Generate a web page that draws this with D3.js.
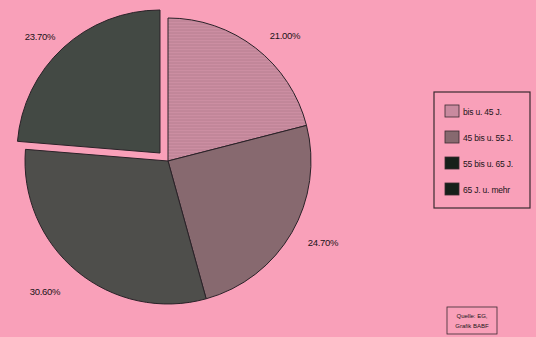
<!DOCTYPE html>
<html>
<head>
<meta charset="utf-8">
<script src="https://cdn.jsdelivr.net/npm/d3@7"></script>
<style>
body { margin: 0; background: #f9a0b9; }
svg { display: block; font-family: "Liberation Sans", Arial, sans-serif; }
</style>
</head>
<body>
<div id="chart"></div>
<script>
var categories = ["bis u. 45 J.", "45 bis u. 55 J.", "55 bis u. 65 J.", "65 J. u. mehr"];
var values = [21.0, 24.7, 30.6, 23.7];
var labels = ["21.00%", "24.70%", "30.60%", "23.70%"];
var colors = ["#c98a9f", "#87696f", "#4e4e4b", "#434944"];
var legendColors = ["#c98a9f", "#87696f", "#16201a", "#16201a"];

var width = 536, height = 337;
var cx = 168, cy = 161, r = 143;

var svg = d3.select("#chart").append("svg")
	.attr("width", width).attr("height", height);

svg.append("rect").attr("width", width).attr("height", height).attr("fill", "#f9a0b9");

// feine Schraffur fuer das erste Segment
var defs = svg.append("defs");
var pat = defs.append("pattern").attr("id", "hatch")
	.attr("patternUnits", "userSpaceOnUse").attr("width", 6).attr("height", 3);
pat.append("rect").attr("width", 6).attr("height", 3).attr("fill", "#cc8ea2");
pat.append("line").attr("x1", 0).attr("x2", 6).attr("y1", 1).attr("y2", 1)
	.attr("stroke", "#b47a8c").attr("stroke-width", 0.8);

var pie = d3.pie().sort(null).value(function(d){ return d; });
var arc = d3.arc().innerRadius(0).outerRadius(r);
var arcs = pie(values);

var g = svg.append("g").attr("transform", "translate(" + cx + "," + cy + ")");

g.selectAll("path").data(arcs).enter().append("path")
	.attr("d", arc)
	.attr("fill", function(d, i){ return i === 0 ? "url(#hatch)" : colors[i]; })
	.attr("stroke", "#2a2228").attr("stroke-width", 1)
	.attr("transform", function(d, i){
		if (i !== 3) return null;
		return "translate(-8,-8)";
	});

// Prozentangaben
var labelPos = [[285, 39], [323, 246], [45, 295], [40, 40]];
svg.selectAll("text.pct").data(labels).enter().append("text")
	.attr("class", "pct")
	.attr("x", function(d, i){ return labelPos[i][0]; })
	.attr("y", function(d, i){ return labelPos[i][1]; })
	.attr("text-anchor", "middle")
	.attr("font-size", 9.5)
	.attr("letter-spacing", -0.3)
	.attr("fill", "#1a1418")
	.text(function(d){ return d; });

// Legende
var legend = svg.append("g").attr("transform", "translate(434,92)");
legend.append("rect").attr("width", 96).attr("height", 116)
	.attr("fill", "none").attr("stroke", "#3a2a30").attr("stroke-width", 1.2);
var item = legend.selectAll("g.item").data(categories).enter().append("g")
	.attr("class", "item")
	.attr("transform", function(d, i){ return "translate(11," + (13 + i * 26) + ")"; });
item.append("rect").attr("width", 14).attr("height", 12)
	.attr("fill", function(d, i){ return legendColors[i]; })
	.attr("stroke", "#3a2a30").attr("stroke-width", 0.8);
item.append("text").attr("x", 18).attr("y", 10)
	.attr("font-size", 8.5).attr("letter-spacing", -0.2).attr("fill", "#1a1418")
	.text(function(d){ return d; });

// Quelle
var src = svg.append("g").attr("transform", "translate(447,307)");
src.append("rect").attr("width", 50).attr("height", 27)
	.attr("fill", "none").attr("stroke", "#3a2a30").attr("stroke-width", 0.8);
src.append("text").attr("x", 25).attr("y", 11).attr("text-anchor", "middle")
	.attr("font-size", 6).attr("fill", "#1a1418").text("Quelle: EG,");
src.append("text").attr("x", 25).attr("y", 21).attr("text-anchor", "middle")
	.attr("font-size", 6).attr("fill", "#1a1418").text("Grafik BABF");
</script>
</body>
</html>
